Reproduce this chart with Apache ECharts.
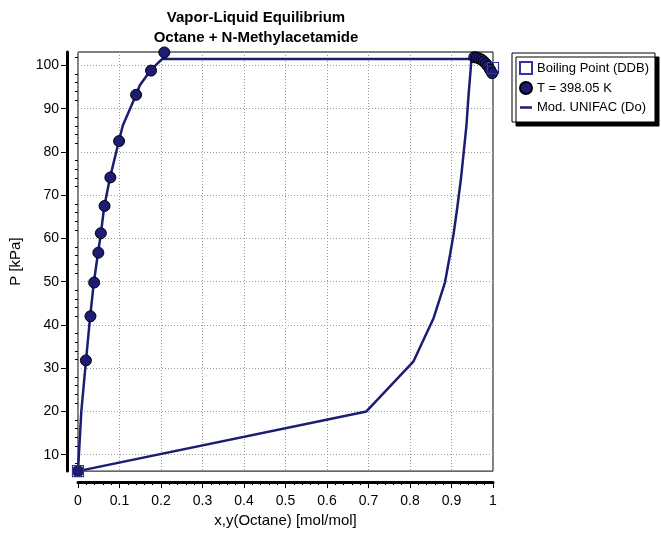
<!DOCTYPE html>
<html>
<head>
<meta charset="utf-8">
<script src="https://cdn.jsdelivr.net/npm/echarts@6/dist/echarts.min.js"></script>
<style>
  html, body { margin: 0; padding: 0; background: #fff; }
  #chart { width: 661px; height: 533px; }
</style>
</head>
<body>
<div id="chart"></div>
<script>
// Pure-component boiling points (DDB)
const bpX = [0, 1];
const bpP = [6.2, 99.4];

// Measured isotherm, T = 398.05 K
const expX = [0.0, 0.019, 0.030, 0.039, 0.049, 0.055, 0.064, 0.078, 0.099, 0.140, 0.176, 0.208,
              0.955, 0.961, 0.967, 0.973, 0.978, 0.983, 0.988, 0.993, 0.998];
const expP = [6.2, 31.8, 42.0, 49.8, 56.7, 61.2, 67.5, 74.1, 82.5, 93.2, 98.8, 103.0,
              101.9, 101.8, 101.6, 101.3, 100.9, 100.4, 99.8, 99.0, 98.2];

// Mod. UNIFAC (Do): bubble-point branch incl. three-phase line
const bubX = [0, 0.008, 0.019, 0.029, 0.038, 0.048, 0.055, 0.063, 0.077, 0.098, 0.108, 0.139, 0.149, 0.175, 0.203,
              0.948, 0.958, 0.970, 0.980, 0.990, 1.0];
const bubP = [6.2, 20.0, 31.5, 41.6, 49.7, 56.5, 61.0, 67.2, 74.0, 82.3, 86.1, 93.0, 95.4, 98.9, 101.5,
              101.5, 101.4, 101.1, 100.6, 100.0, 99.4];

// Mod. UNIFAC (Do): dew-point branch
const dewX = [0, 0.695, 0.808, 0.857, 0.884, 0.897, 0.905, 0.914, 0.923, 0.932, 0.936, 0.941, 0.943, 0.946, 0.948];
const dewP = [6.2, 20.0, 31.5, 41.6, 49.7, 56.5, 61.0, 67.2, 74.0, 82.3, 86.1, 93.0, 95.4, 98.9, 101.5];

// Axis ticks
const xTicks = [0, 0.1, 0.2, 0.3, 0.4, 0.5, 0.6, 0.7, 0.8, 0.9, 1];
const yTicks = [10, 20, 30, 40, 50, 60, 70, 80, 90, 100];
const yMinorTicks = [8, 12, 14, 16, 18, 22, 24, 26, 28, 32, 34, 36, 38, 42, 44, 46, 48,
                     52, 54, 56, 58, 62, 64, 66, 68, 72, 74, 76, 78, 82, 84, 86, 88, 92, 94, 96, 98, 102];

const NAVY = '#1c1c72';
const FONT = '"Liberation Sans", Arial, sans-serif';

const zip = (xs, ys) => xs.map((x, i) => [x, ys[i]]);

const chart = echarts.init(document.getElementById('chart'), null, { renderer: 'canvas' });

const axisBase = {
  axisLine: { show: true, onZero: false, lineStyle: { color: '#000', width: 3 } },
  axisLabel: { color: '#000', fontFamily: FONT, fontSize: 14 },
  nameTextStyle: { color: '#000', fontFamily: FONT, fontSize: 15 }
};

chart.setOption({
  animation: false,
  backgroundColor: '#fff',
  title: {
    text: 'Vapor-Liquid Equilibrium\nOctane + N-Methylacetamide',
    left: 251,
    top: 3,
    textAlign: 'center',
    textStyle: { fontFamily: FONT, fontSize: 15, fontWeight: 'bold', color: '#000', lineHeight: 20 }
  },
  legend: {
    orient: 'vertical',
    left: 512,
    top: 53,
    padding: [8, 6, 8, 7],
    itemWidth: 12,
    itemHeight: 12,
    itemGap: 6,
    backgroundColor: '#fff',
    borderColor: '#000',
    borderWidth: 1,
    borderRadius: 0,
    shadowColor: '#000',
    shadowBlur: 0,
    shadowOffsetX: 4,
    shadowOffsetY: 4,
    textStyle: { fontFamily: FONT, fontSize: 13, color: '#000' },
    data: [
      { name: 'Boiling Point (DDB)' },
      { name: 'T = 398.05 K' },
      { name: 'Mod. UNIFAC (Do)', icon: 'path://M0,0H12V2.5H0Z', itemStyle: { color: NAVY } }
    ]
  },
  grid: {
    left: 76, right: 168, top: 52, bottom: 61,
    show: true, borderColor: '#000', borderWidth: 1, backgroundColor: 'transparent'
  },
  xAxis: [{
    ...axisBase,
    type: 'value',
    min: xTicks[0],
    max: xTicks[xTicks.length - 1],
    interval: 0.1,
    position: 'bottom',
    offset: 11,
    name: 'x,y(Octane) [mol/mol]',
    nameLocation: 'middle',
    nameGap: 30,
    axisTick: { show: true, inside: false, length: 6, lineStyle: { color: '#000', width: 1 } },
    minorTick: { show: true, splitNumber: 5, length: 3, lineStyle: { color: '#000', width: 1 } },
    axisLabel: { ...axisBase.axisLabel, margin: 12, showMinLabel: true, showMaxLabel: true },
    splitLine: { show: true, lineStyle: { color: '#9a9a9a', width: 1, type: [1, 2] } }
  }],
  yAxis: [{
    ...axisBase,
    type: 'value',
    min: 6.2,
    max: 103.1,
    position: 'left',
    offset: 11,
    name: 'P [kPa]',
    nameLocation: 'middle',
    nameRotate: 90,
    nameGap: 44,
    axisTick: { show: true, inside: false, length: 6, customValues: yTicks, lineStyle: { color: '#000', width: 1 } },
    axisLabel: { ...axisBase.axisLabel, margin: 8, customValues: yTicks },
    splitLine: { show: true, lineStyle: { color: '#9a9a9a', width: 1, type: [1, 2] } }
  }, {
    type: 'value',
    min: 6.2,
    max: 103.1,
    position: 'left',
    offset: 11,
    axisLine: { show: false },
    axisLabel: { show: false },
    splitLine: { show: false },
    axisTick: { show: true, inside: false, length: 3, customValues: yMinorTicks, lineStyle: { color: '#000', width: 1 } }
  }],
  series: [
    {
      name: 'Boiling Point (DDB)',
      type: 'scatter',
      data: zip(bpX, bpP),
      symbol: 'rect',
      symbolSize: 11,
      itemStyle: { color: 'rgba(255,255,255,0)', borderColor: '#3434a0', borderWidth: 1.2, opacity: 1 },
      z: 5
    },
    {
      name: 'T = 398.05 K',
      type: 'scatter',
      data: zip(expX, expP),
      symbol: 'circle',
      symbolSize: 11,
      itemStyle: { color: NAVY, borderColor: '#000', borderWidth: 1, opacity: 1 },
      z: 4
    },
    {
      name: 'Mod. UNIFAC (Do)',
      type: 'line',
      data: zip(bubX, bubP),
      symbol: 'none',
      lineStyle: { color: NAVY, width: 2.5 },
      itemStyle: { color: NAVY },
      z: 3
    },
    {
      name: 'Mod. UNIFAC (Do)',
      type: 'line',
      data: zip(dewX, dewP),
      symbol: 'none',
      lineStyle: { color: NAVY, width: 2.5 },
      itemStyle: { color: NAVY },
      z: 3
    }
  ]
});
</script>
</body>
</html>
